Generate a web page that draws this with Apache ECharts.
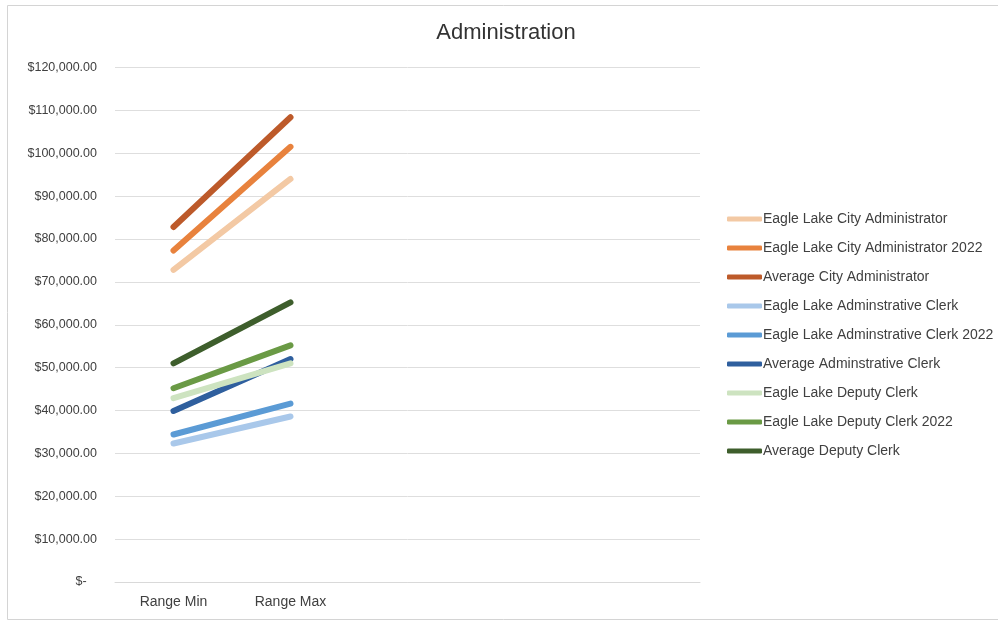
<!DOCTYPE html>
<html>
<head>
<meta charset="utf-8">
<script src="https://cdn.jsdelivr.net/npm/echarts@6/dist/echarts.min.js"></script>
<style>
html,body{margin:0;padding:0;background:#fff;}
#chart{width:998px;height:622px;}
</style>
</head>
<body>
<div id="chart"></div>
<script>
const categories = ['Range Min', 'Range Max', '', '', ''];
const seriesNames = [
  'Eagle Lake City Administrator',
  'Eagle Lake City Administrator 2022',
  'Average City Administrator',
  'Eagle Lake Adminstrative Clerk',
  'Eagle Lake Adminstrative Clerk 2022',
  'Average Adminstrative Clerk',
  'Eagle Lake Deputy Clerk',
  'Eagle Lake Deputy Clerk 2022',
  'Average Deputy Clerk'
];
const elCityAdmin = [72800, 94000];
const elCityAdmin2022 = [77300, 101500];
const avgCityAdmin = [82800, 108400];
const elAdminClerk = [32300, 38600];
const elAdminClerk2022 = [34400, 41600];
const avgAdminClerk = [39900, 52000];
const elDeputyClerk = [42900, 51000];
const elDeputyClerk2022 = [45200, 55200];
const avgDeputyClerk = [51000, 65200];
const seriesValues = [elCityAdmin, elCityAdmin2022, avgCityAdmin, elAdminClerk, elAdminClerk2022, avgAdminClerk, elDeputyClerk, elDeputyClerk2022, avgDeputyClerk];
const colors = ['#f3c9a4', '#e8823d', '#bd5a2a', '#a9c8ea', '#5b9bd5', '#2f5f9e', '#cde3c0', '#6a9a45', '#3e5e2c'];
const yTickMax = 120000;
const yTickStep = 10000;

const chart = echarts.init(document.getElementById('chart'));
const font = 'Liberation Sans, Arial, sans-serif';
chart.setOption({
  animation: false,
  backgroundColor: '#fff',
  color: colors,
  title: {
    text: 'Administration',
    left: 506,
    textAlign: 'center',
    top: 22,
    padding: 0,
    textStyle: {fontFamily: font, fontSize: 22, fontWeight: 'normal', color: '#333333'}
  },
  graphic: [{
    type: 'rect',
    shape: {x: 7.5, y: 5.5, width: 1000, height: 614},
    style: {fill: 'none', stroke: '#d4d4d4', lineWidth: 1},
    silent: true
  }],
  grid: {left: 115, right: 298, top: 67.5, bottom: 40, containLabel: false},
  legend: {
    orient: 'vertical',
    left: 727,
    top: 212,
    padding: 0,
    itemWidth: 35,
    itemHeight: 5,
    itemGap: 15,
    icon: 'roundRect',
    textStyle: {fontFamily: font, fontSize: 14, color: '#404040', padding: [0, 0, 0, -4]},
    data: seriesNames
  },
  xAxis: {
    type: 'category',
    data: categories,
    boundaryGap: true,
    axisLine: {lineStyle: {color: '#d9d9d9', width: 1}},
    axisTick: {show: false},
    axisLabel: {fontFamily: font, fontSize: 14, color: '#404040', margin: 13, interval: 0}
  },
  yAxis: {
    type: 'value',
    min: 0,
    max: yTickMax,
    interval: yTickStep,
    axisLine: {show: false},
    axisTick: {show: false},
    splitLine: {lineStyle: {color: '#dedede', width: 1}},
    axisLabel: {
      fontFamily: font, fontSize: 12.5, color: '#404040', margin: 18,
      formatter: function (v) {
        if (v === 0) return '$-   ';
        return '$' + v.toLocaleString('en-US', {minimumFractionDigits: 2, maximumFractionDigits: 2});
      }
    }
  },
  series: seriesNames.map((name, i) => ({
    name: name,
    type: 'line',
    data: seriesValues[i],
    showSymbol: false,
    symbol: 'none',
    lineStyle: {width: 6, cap: 'round', color: colors[i]},
    itemStyle: {color: colors[i]}
  }))
});
</script>
</body>
</html>
